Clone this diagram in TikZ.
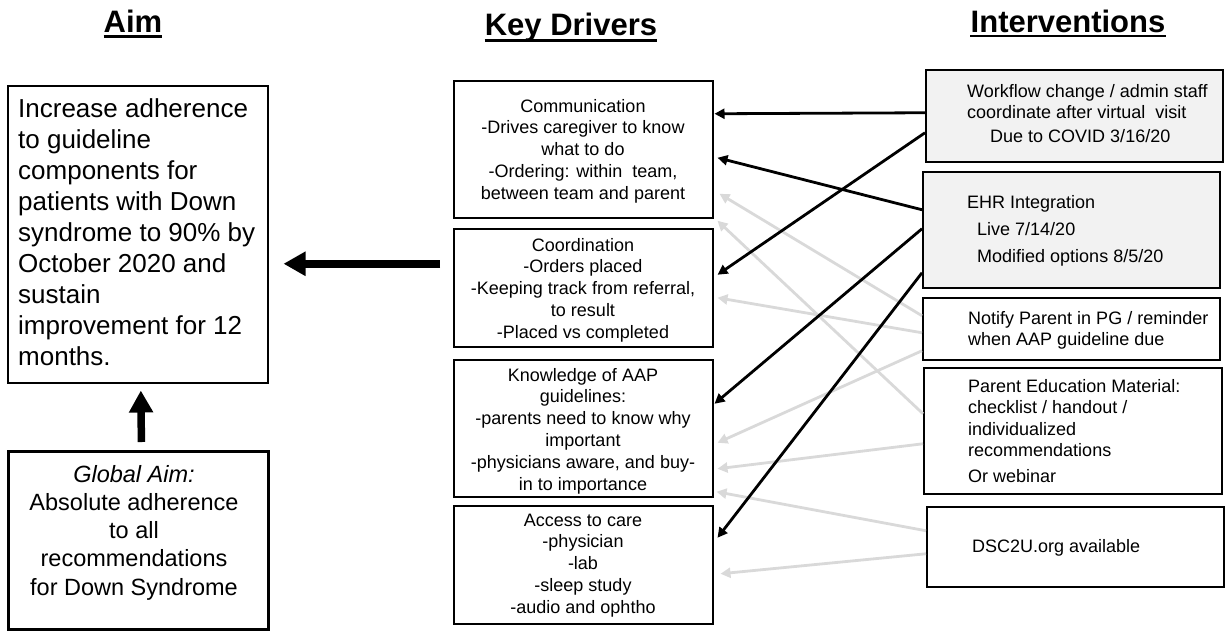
\documentclass[tikz,border=0pt]{standalone}
\usepackage{fontspec}
\setmainfont{Liberation Sans}
\usetikzlibrary{arrows.meta}
\definecolor{lightg}{HTML}{D9D9D9}
\definecolor{boxfill}{HTML}{F2F2F2}
\begin{document}
\begin{tikzpicture}[x=1pt,y=-1pt,
  box/.style={draw=black, line width=1.5pt, inner sep=0pt, anchor=north west},
  head/.style={anchor=base, inner sep=0pt, font=\fontsize{31}{37}\selectfont\bfseries},
  kdtext/.style={anchor=base, inner sep=0pt, font=\fontsize{18}{21.8}\selectfont},
  ivtext/.style={anchor=base west, inner sep=0pt, font=\fontsize{18}{21.5}\selectfont},
  blk/.style={line width=2.8pt, draw=black, -{Triangle[length=10pt,width=10pt]}},
  gry/.style={line width=2.8pt, draw=lightg, -{Triangle[length=10pt,width=10pt]}},
  big/.style={line width=7.5pt, draw=black, -{Triangle[length=22pt,width=23pt]}}
]
\useasboundingbox (0,0) rectangle (1225,630);

% headers
\node[head] (hAim) at (133,32) {Aim};
\draw[line width=2.5pt] ([yshift=-4.5pt]hAim.base west) -- ([yshift=-4.5pt]hAim.base east);
\node[head] (hKD) at (571,35) {Key Drivers};
\draw[line width=2.5pt] ([yshift=-5.5pt]hKD.base west) -- ([yshift=-5.5pt]hKD.base east);
\node[head] (hIV) at (1068,32) {Interventions};
\draw[line width=2.5pt] ([yshift=-4pt]hIV.base west) -- ([yshift=-4pt]hIV.base east);

% aim boxes
\node[box, minimum width=260pt, minimum height=297pt] (aim) at (7,85) {};
\node[anchor=base west, inner sep=0pt, font=\fontsize{26}{31}\selectfont] (aimt) at (18,117)
  {\begin{tabular}[t]{@{}l@{}}Increase adherence\\to guideline\\components for\\patients with Down\\syndrome to 90\% by\\October 2020 and\\sustain\\improvement for 12\\months.\end{tabular}};

\node[box, line width=3pt, minimum width=260pt, minimum height=178pt] (glob) at (7,450) {};
\node[anchor=base, inner sep=0pt, font=\fontsize{23.5}{28.3}\selectfont] (globt) at (134,482)
  {\begin{tabular}[t]{@{}c@{}}\textit{Global Aim:}\\Absolute adherence\\to all\\recommendations\\for Down Syndrome\end{tabular}};

% key drivers
\node[box, minimum width=259pt, minimum height=137pt] (b1) at (453,80) {};
\node[kdtext] (b1t) at (583,112)
  {\begin{tabular}[t]{@{}c@{}}Communication\\-Drives caregiver to know\\what to do\\-Ordering: within\ \ team,\\between team and parent\end{tabular}};
\node[box, minimum width=259pt, minimum height=118pt] (b2) at (453,228) {};
\node[kdtext] (b2t) at (583,251)
  {\begin{tabular}[t]{@{}c@{}}Coordination\\-Orders placed\\-Keeping track from referral,\\to result\\-Placed vs completed\end{tabular}};
\node[box, minimum width=259pt, minimum height=137pt] (b3) at (453,359) {};
\node[kdtext] (b3t) at (583,381)
  {\begin{tabular}[t]{@{}c@{}}Knowledge of AAP\\guidelines:\\-parents need to know why\\important\\-physicians aware, and buy-\\in to importance\end{tabular}};
\node[box, minimum width=259pt, minimum height=118pt] (b4) at (453,505) {};
\node[kdtext] (b4t) at (583,526)
  {\begin{tabular}[t]{@{}c@{}}Access to care\\-physician\\-lab\\-sleep study\\-audio and ophtho\end{tabular}};

% interventions
\node[box, fill=boxfill, minimum width=297pt, minimum height=92pt] (i1) at (925,69) {};
\node[ivtext] (i1t) at (967,97)
  {\begin{tabular}[t]{@{}l@{}}Workflow change / admin staff\\coordinate after virtual\ \ visit\\[2.5pt]\hspace{23pt}Due to COVID 3/16/20\end{tabular}};
\node[box, fill=boxfill, minimum width=297pt, minimum height=116pt] (i2) at (922,171) {};
\node[ivtext] (i2t) at (967,208)
  {\begin{tabular}[t]{@{}l@{}}EHR Integration\\[6pt]\hspace{10pt}Live 7/14/20\\[5.5pt]\hspace{10pt}Modified options 8/5/20\end{tabular}};
\node[box, minimum width=297pt, minimum height=62pt] (i3) at (922,297) {};
\node[ivtext] (i3t) at (968,324)
  {\begin{tabular}[t]{@{}l@{}}Notify Parent in PG / reminder\\when AAP guideline due\end{tabular}};
\node[box, minimum width=298pt, minimum height=126pt] (i4) at (923,367) {};
\node[ivtext] (i4t) at (968,392)
  {\begin{tabular}[t]{@{}l@{}}Parent Education Material:\\checklist / handout /\\individualized\\recommendations\\[4.5pt]Or webinar\end{tabular}};
\node[box, minimum width=297pt, minimum height=80pt] (i5) at (926,506) {};
\node[ivtext] (i5t) at (972,552) {DSC2U.org available};

% gray connectors
\draw[gry] ([yshift=13pt]i3.west) -- ([xshift=6pt,yshift=-44.5pt]b1.east);
\draw[gry] ([yshift=17pt]i4.west) -- ([xshift=4pt,yshift=-71.5pt]b1.east);
\draw[gry] ([yshift=-4pt]i3.west) -- ([xshift=4pt,yshift=-10pt]b2.east);
\draw[gry] ([yshift=-22pt]i3.west) -- ([xshift=4pt,yshift=-14.5pt]b3.east);
\draw[gry] ([yshift=-13pt]i4.west) -- ([xshift=4pt,yshift=-40.5pt]b3.east);
\draw[gry] ([yshift=16pt]i5.west) -- ([xshift=3pt,yshift=-63.5pt]b3.east);
\draw[gry] ([yshift=-7pt]i5.west) -- ([xshift=7pt,yshift=-9pt]b4.east);

% black connectors
\draw[blk] ([yshift=3pt]i1.west) -- ([xshift=1pt,yshift=35.5pt]b1.east);
\draw[blk] ([yshift=-17pt]i1.west) -- ([xshift=4pt,yshift=13pt]b2.east);
\draw[blk] ([yshift=20pt]i2.west) -- ([xshift=4pt,yshift=-8.5pt]b1.east);
\draw[blk] ([yshift=1pt]i2.west) -- ([xshift=1pt,yshift=24.5pt]b3.east);
\draw[blk] ([yshift=-43pt]i2.west) -- ([xshift=4pt,yshift=27pt]b4.east);

% big arrows
\draw[big, shorten <=13pt, shorten >=15pt] ([yshift=24pt]b2.west) -- ([yshift=-29.5pt]aim.east);
\draw[big, shorten <=8pt, shorten >=7pt] ([xshift=3pt]glob.north) -- ([xshift=3pt]aim.south);
\end{tikzpicture}
\end{document}
